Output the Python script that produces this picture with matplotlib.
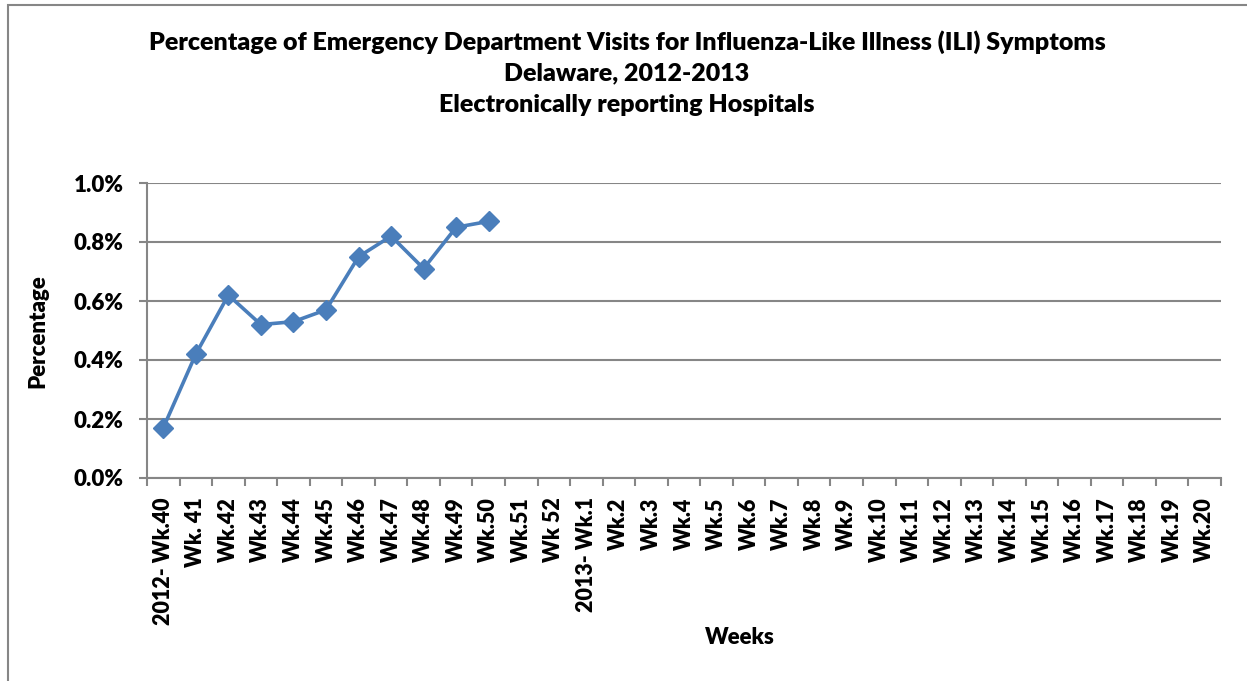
import matplotlib.pyplot as plt
from matplotlib.patches import Rectangle

# Weekly ILI percentage, Delaware 2012-2013 season
weeks = (["2012- Wk.40", "Wk. 41"] + ["Wk.%d" % w for w in range(42, 52)] + ["Wk 52", "2013- Wk.1"]
         + ["Wk.%d" % w for w in range(2, 21)])
ili_pct = [0.17, 0.42, 0.62, 0.52, 0.53, 0.57, 0.75, 0.82, 0.71, 0.85, 0.87]
y_ticks = [0.0, 0.2, 0.4, 0.6, 0.8, 1.0]

plt.rcParams["font.family"] = ["Lato", "DejaVu Sans"]
wt = "heavy"

W, H = 1247, 681
fig = plt.figure(figsize=(W / 100, H / 100), dpi=100)
# plot area in pixels from the picture
left, right, top, bottom = 147, 1221, 183, 478
ax = fig.add_axes([left / W, 1 - bottom / H, (right - left) / W, (bottom - top) / H])

# chart border (cut off on the right and bottom)
fig.patches.append(Rectangle((8 / W, -0.1), 1.2, 1 - 5 / H + 0.1, transform=fig.transFigure,
                             fill=False, edgecolor="#868686", linewidth=1.5))

grid_col = "#868686"
n = len(weeks)
xs = list(range(len(ili_pct)))
ax.plot(xs, ili_pct, color="#4A7EBB", linewidth=2.6, marker="D", markersize=10,
        markerfacecolor="#4A7EBB", markeredgecolor="#4A7EBB", zorder=3)

ax.set_xlim(-0.5, n - 0.5)
ax.set_ylim(0, 1.0)
ax.set_yticks(y_ticks)
ax.set_yticklabels(["%.1f%%" % v for v in y_ticks], fontsize=16, fontweight=wt)
ax.set_xticks(range(n))
ax.set_xticklabels(weeks, rotation=90, fontsize=15.5, fontweight=wt, va="top")
ax.set_xticks([i - 0.5 for i in range(n + 1)], minor=True)
ax.tick_params(axis="x", which="major", length=0, pad=14)
ax.tick_params(axis="x", which="minor", length=6, width=1.5, color=grid_col, direction="out")
ax.tick_params(axis="y", length=6, width=1.5, color=grid_col, pad=11)

ax.grid(axis="y", color=grid_col, linewidth=1.5)
ax.set_axisbelow(True)
for s in ["top", "right"]:
    ax.spines[s].set_visible(False)
for s in ["left", "bottom"]:
    ax.spines[s].set_color(grid_col)
    ax.spines[s].set_linewidth(1.5)

fig.text(627 / W, 1 - 42 / H, "Percentage of Emergency Department Visits for Influenza-Like Illness (ILI) Symptoms",
         ha="center", va="center", fontsize=18, fontweight=wt)
fig.text(627 / W, 1 - 73 / H, "Delaware, 2012-2013", ha="center", va="center", fontsize=18, fontweight=wt)
fig.text(627 / W, 1 - 105 / H, "Electronically reporting Hospitals", ha="center", va="center",
         fontsize=18, fontweight=wt)
fig.text(38 / W, 1 - 331 / H, "Percentage", rotation=90, ha="center", va="center", fontsize=16, fontweight=wt)
fig.text(740 / W, 1 - 638 / H, "Weeks", ha="center", va="center", fontsize=16, fontweight=wt)

fig.savefig("out.png", dpi=100)
